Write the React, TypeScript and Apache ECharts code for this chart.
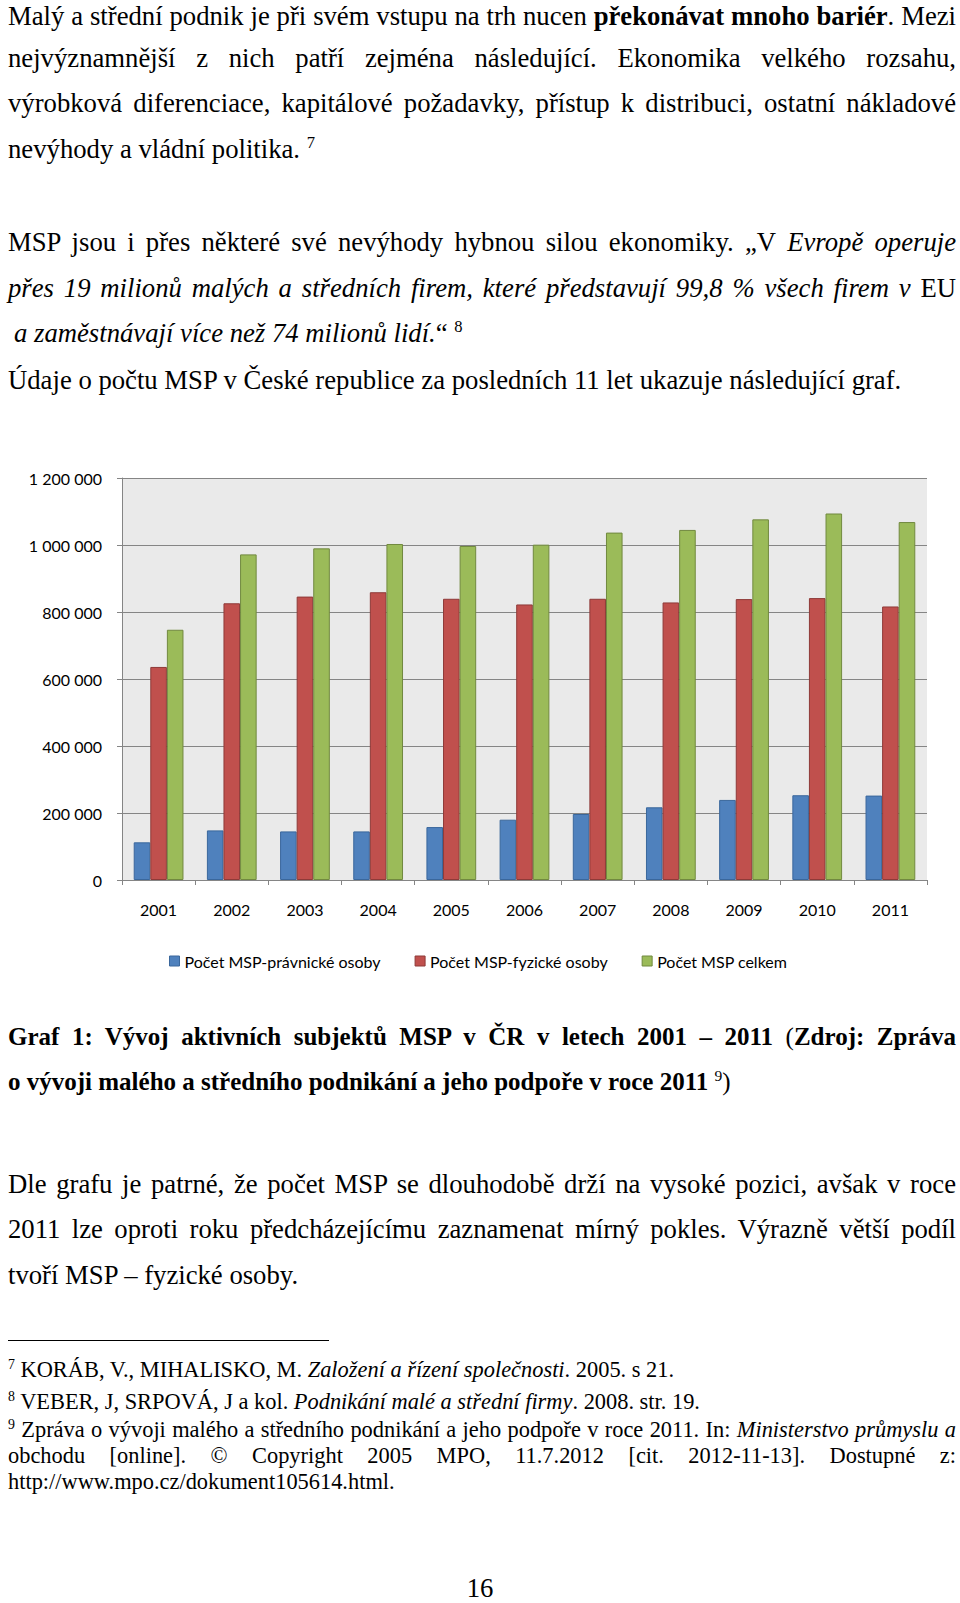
import React, { useEffect, useRef } from "react";
import * as echarts from "echarts";

const years = ["2001", "2002", "2003", "2004", "2005", "2006", "2007", "2008", "2009", "2010", "2011"];
const legalEntities = [112500, 148000, 145000, 145000, 158000, 180000, 197000, 217000, 239000, 253000, 252000];
const naturalPersons = [636000, 826000, 846000, 859000, 839500, 822500, 839500, 828500, 838500, 841500, 816500];
const totals = [747000, 972000, 990000, 1003000, 997000, 1001000, 1037000, 1045000, 1076500, 1094000, 1068500];
const seriesNames = ["Počet MSP-právnické osoby", "Počet MSP-fyzické osoby", "Počet MSP celkem"];
const yMin = 0;
const yMax = 1200000;
const yStep = 200000;

const BODY = 26.7;
const CAPTION = 25;
const FOOT = 22.4;
const serif = "'Liberation Serif', 'Times New Roman', serif";

type LineProps = { c: number; size?: number; justify?: boolean; left?: number; children: React.ReactNode; center?: boolean; pad?: number };

function Line({ c, size = BODY, justify = false, left = 8, children, center = false, pad = 4 }: LineProps) {
  const lh = size + pad;
  return (
    <div
      style={{
        position: "absolute",
        left: center ? 0 : left,
        width: center ? 960 : 956 - left,
        top: c - lh / 2,
        fontFamily: serif,
        fontSize: size,
        lineHeight: `${lh}px`,
        height: lh,
        whiteSpace: "nowrap",
        textAlign: center ? "center" : justify ? "justify" : "left",
        textAlignLast: center ? "center" : justify ? "justify" : "left",
        color: "#000",
      } as React.CSSProperties}
    >
      {children}
    </div>
  );
}

const Sup = ({ children }: { children: React.ReactNode }) => (
  <span style={{ fontSize: "0.62em", verticalAlign: "0.6em", lineHeight: 0 }}>{children}</span>
);

function Chart() {
  const ref = useRef<HTMLDivElement>(null);
  useEffect(() => {
    if (!ref.current) return;
    const chart = echarts.init(ref.current, undefined, { renderer: "svg" });
    const fmt = (v: number) => String(v).replace(/\B(?=(\d{3})+(?!\d))/g, " ");
    const font = "Lato, 'Noto Sans', sans-serif";
    const mk = (name: string, data: number[], color: string, border: string) => ({
      name,
      type: "bar",
      data,
      barGap: "0%",
      barCategoryGap: "32%",
      itemStyle: { color, borderColor: border, borderWidth: 1 },
    });
    chart.setOption({
      animation: false,
      grid: {
        left: 122,
        width: 805,
        top: 48,
        height: 402,
        show: true,
        backgroundColor: "#EAEAEA",
        borderWidth: 0,
      },
      legend: {
        data: seriesNames,
        left: 164,
        top: 518,
        icon: "rect",
        itemWidth: 10,
        itemHeight: 10,
        itemGap: 34,
        itemStyle: { borderWidth: 1 },
        textStyle: { fontFamily: font, fontSize: 16, color: "#000" },
      },
      xAxis: {
        type: "category",
        data: years,
        axisLine: { lineStyle: { color: "#858585", width: 1 } },
        axisTick: { show: true, length: 5, lineStyle: { color: "#858585" } },
        axisLabel: { fontFamily: font, fontSize: 16, color: "#000", margin: 21 },
      },
      yAxis: {
        type: "value",
        min: yMin,
        max: yMax,
        interval: yStep,
        axisLine: { show: true, lineStyle: { color: "#858585", width: 1 } },
        axisTick: { show: true, length: 5, lineStyle: { color: "#858585" } },
        splitLine: { show: true, lineStyle: { color: "#858585", width: 1 } },
        axisLabel: { fontFamily: font, fontSize: 16, color: "#000", margin: 20, formatter: fmt },
      },
      series: [
        mk(seriesNames[0], legalEntities, "#4F81BD", "#3A679C"),
        mk(seriesNames[1], naturalPersons, "#C0504D", "#8E3A38"),
        mk(seriesNames[2], totals, "#9BBB59", "#71893F"),
      ],
    });
    return () => chart.dispose();
  }, []);
  return <div ref={ref} style={{ position: "absolute", left: 0, top: 430, width: 960, height: 560 }} />;
}

export default function App() {
  return (
    <div style={{ position: "absolute", left: 0, top: 0, width: 960, height: 1603, background: "#fff", overflow: "hidden" }}>
      <Line c={16} justify pad={0}>
        Malý a střední podnik je při svém vstupu na trh nucen <b>překonávat mnoho bariér</b>. Mezi
      </Line>
      <Line c={58.3} justify>
        nejvýznamnější z{"\u00a0"}nich patří zejména následující. Ekonomika velkého rozsahu,
      </Line>
      <Line c={103.3} justify>
        výrobková diferenciace, kapitálové požadavky, přístup k{"\u00a0"}distribuci, ostatní nákladové
      </Line>
      <Line c={149.3}>
        nevýhody a vládní politika. <Sup>7</Sup>
      </Line>

      <Line c={242.3} justify>
        MSP jsou i přes některé své nevýhody hybnou silou ekonomiky. „V{"\u00a0"}<i>Evropě operuje</i>
      </Line>
      <Line c={288.3} justify>
        <i>přes 19 milionů malých a středních firem, které představují 99,8 % všech firem v</i>{"\u00a0"}EU
      </Line>
      <Line c={333.3} left={14}>
        <i>a zaměstnávají více než 74 milionů lidí.</i>“ <Sup>8</Sup>
      </Line>
      <Line c={380.3}>
        Údaje o počtu MSP v České republice za posledních 11 let ukazuje následující graf.
      </Line>

      <Chart />

      <Line c={1036.7} size={CAPTION} justify>
        <b>Graf 1: Vývoj aktivních subjektů MSP v ČR v letech 2001 – 2011</b> (<b>Zdroj: Zpráva</b>
      </Line>
      <Line c={1081.7} size={CAPTION}>
        <b>o vývoji malého a středního podnikání a jeho podpoře v roce 2011 </b>
        <Sup>9</Sup>)
      </Line>

      <Line c={1184} justify>
        Dle grafu je patrné, že počet MSP se dlouhodobě drží na vysoké pozici, avšak v{"\u00a0"}roce
      </Line>
      <Line c={1229} justify>
        2011 lze oproti roku předcházejícímu zaznamenat mírný pokles. Výrazně větší podíl
      </Line>
      <Line c={1275}>tvoří MSP – fyzické osoby.</Line>

      <div style={{ position: "absolute", left: 8, top: 1340, width: 321, height: 1, background: "#000" }} />

      <Line c={1370} size={FOOT}>
        <Sup>7</Sup> KORÁB, V., MIHALISKO, M. <i>Založení a řízení společnosti</i>. 2005. s 21.
      </Line>
      <Line c={1402} size={FOOT}>
        <Sup>8</Sup> VEBER, J, SRPOVÁ, J a kol. <i>Podnikání malé a střední firmy</i>. 2008. str. 19.
      </Line>
      <Line c={1430} size={FOOT} justify>
        <Sup>9</Sup> Zpráva o vývoji malého a středního podnikání a jeho podpoře v roce 2011. In: <i>Ministerstvo průmyslu a</i>
      </Line>
      <Line c={1456} size={FOOT} justify>
        obchodu [online]. © Copyright 2005 MPO, 11.7.2012 [cit. 2012-11-13]. Dostupné z:
      </Line>
      <Line c={1482.5} size={FOOT}>
        http://www.mpo.cz/dokument105614.html.
      </Line>

      <Line c={1588} center pad={0}>
        16
      </Line>
    </div>
  );
}
